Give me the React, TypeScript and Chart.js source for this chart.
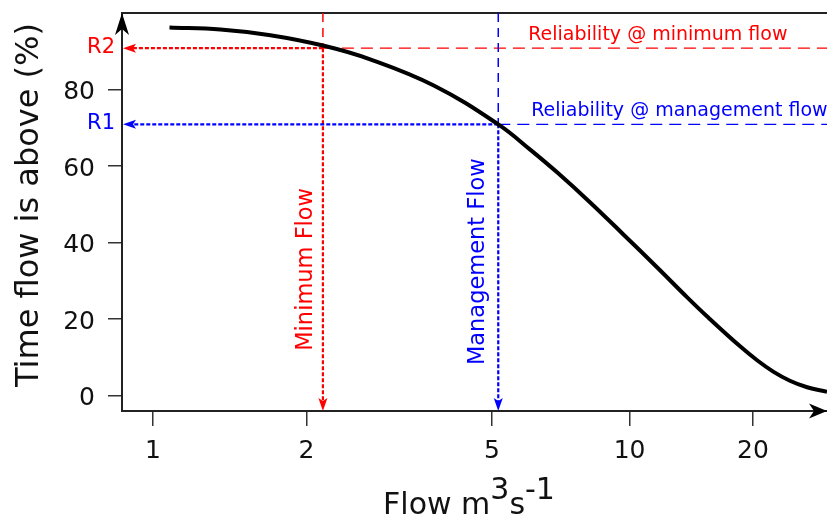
import React, { useEffect, useRef } from 'react';
import { Chart, registerables } from 'chart.js';

Chart.register(...registerables);

// Flow duration curve (flow in m3/s, % of time the flow is above)
const flowValues = [1.078, 1.357, 1.7, 2.17, 2.74, 3.76, 5.16, 6.06, 6.95, 8.2, 9.68, 11.68, 13.82, 15.46, 18.6, 20.5, 22.4, 24.6, 27.1, 30.3];
const percentAbove = [96.2, 95.7, 94.2, 91.5, 87.9, 81.0, 70.9, 64.3, 58.3, 50.5, 42.2, 33.5, 25.7, 20.7, 12.9, 9.2, 6.3, 3.9, 2.2, 1.0];

// Hand-drawn log-like x axis: tick flows and their relative positions on the axis
const xTickFlows = [1, 2, 5, 10, 20];
const xTickLabels = ['1', '2', '5', '10', '20'];
const xTickSpacing = [0, 1, 2.209, 3.105, 3.909];
const yTickValues = [0, 20, 40, 60, 80];

const xAxisRange = [0.87, 30.3];
const yAxisRange = [-4, 100];

const minimumFlow = 2.17;
const managementFlow = 5.16;
const reliabilityMinimum = 90.8;
const reliabilityManagement = 70.9;

const FONT = '"DejaVu Sans", Verdana, sans-serif';
const RED = 'rgb(255,0,0)';
const BLUE = 'rgb(0,0,255)';
const AXIS = '#222';

function warp(flow: number): number {
  const l = Math.log10(flow);
  const logs = xTickFlows.map((f) => Math.log10(f));
  let i = 0;
  if (l >= logs[logs.length - 1]) i = logs.length - 2;
  else if (l > logs[0]) {
    while (l > logs[i + 1]) i++;
  }
  const t = (l - logs[i]) / (logs[i + 1] - logs[i]);
  return xTickSpacing[i] + t * (xTickSpacing[i + 1] - xTickSpacing[i]);
}

function arrowHead(ctx: CanvasRenderingContext2D, tipX: number, tipY: number, dx: number, dy: number, len: number, half: number, notch: number, color: string) {
  const px = -dy, py = dx;
  const bx = tipX - dx * len, by = tipY - dy * len;
  const nx = tipX - dx * (len - notch), ny = tipY - dy * (len - notch);
  ctx.beginPath();
  ctx.moveTo(tipX, tipY);
  ctx.lineTo(bx + px * half, by + py * half);
  ctx.lineTo(nx, ny);
  ctx.lineTo(bx - px * half, by - py * half);
  ctx.closePath();
  ctx.fillStyle = color;
  ctx.fill();
}

function seg(ctx: CanvasRenderingContext2D, x1: number, y1: number, x2: number, y2: number, color: string, width: number, dash: number[]) {
  ctx.save();
  ctx.beginPath();
  ctx.setLineDash(dash);
  ctx.strokeStyle = color;
  ctx.lineWidth = width;
  ctx.moveTo(x1, y1);
  ctx.lineTo(x2, y2);
  ctx.stroke();
  ctx.restore();
}

const guides = [
  { flow: minimumFlow, rel: reliabilityMinimum, color: RED, tag: 'R2', name: 'Minimum Flow', nameAt: 33, note: 'Reliability @ minimum flow' },
  { flow: managementFlow, rel: reliabilityManagement, color: BLUE, tag: 'R1', name: 'Management Flow', nameAt: 35, note: 'Reliability @ management flow' },
];

const guidePlugin = {
  id: 'guides',
  beforeDatasetsDraw(chart: any) {
    const ctx: CanvasRenderingContext2D = chart.ctx;
    const a = chart.chartArea;
    const xs = chart.scales.x;
    const ys = chart.scales.y;
    ctx.save();
    // top frame line
    seg(ctx, a.left, a.top, a.right, a.top, AXIS, 2, []);
    const mgX = xs.getPixelForValue(warp(managementFlow));
    guides.forEach((g, k) => {
      const gx = xs.getPixelForValue(warp(g.flow));
      const gy = ys.getPixelForValue(g.rel);
      const aLen = 13;
      // vertical
      seg(ctx, gx, a.top, gx, gy, g.color, 1.5, [9, 6]);
      seg(ctx, gx, gy, gx, a.bottom - aLen + 3, g.color, 2.2, [4, 2]);
      arrowHead(ctx, gx, a.bottom, 0, 1, aLen, 4.5, 3, g.color);
      // horizontal
      seg(ctx, gx, gy, a.left + aLen - 2, gy, g.color, 2.2, [4, 2]);
      arrowHead(ctx, a.left + 1, gy, -1, 0, aLen, 4.5, 3, g.color);
      seg(ctx, gx, gy, a.right, gy, g.color, 1.3, [12, 7]);
      // tags
      ctx.fillStyle = g.color;
      ctx.font = `21px ${FONT}`;
      ctx.textAlign = 'right';
      ctx.textBaseline = 'middle';
      ctx.fillText(g.tag, a.left - 7, gy - 1);
      // notes above dashed lines
      ctx.font = `19px ${FONT}`;
      ctx.textAlign = 'left';
      ctx.textBaseline = 'alphabetic';
      ctx.fillText(g.note, mgX + (k === 0 ? 30 : 33), gy - 8.5);
      // rotated names
      ctx.save();
      ctx.font = `22.5px ${FONT}`;
      ctx.translate(gx - (k === 0 ? 11 : 14), ys.getPixelForValue(g.nameAt));
      ctx.rotate(-Math.PI / 2);
      ctx.textAlign = 'center';
      ctx.textBaseline = 'alphabetic';
      ctx.fillText(g.name, 0, 0);
      ctx.restore();
    });
    ctx.restore();
  },
  afterDraw(chart: any) {
    const ctx: CanvasRenderingContext2D = chart.ctx;
    const a = chart.chartArea;
    ctx.save();
    // axis arrows
    arrowHead(ctx, a.left, a.top, 0, -1, 22, 7, 6, '#000');
    arrowHead(ctx, a.right, a.bottom, 1, 0, 18, 7.5, 5, '#000');
    // y title
    ctx.fillStyle = '#111';
    ctx.save();
    ctx.font = `32px ${FONT}`;
    ctx.translate(38, 205);
    ctx.rotate(-Math.PI / 2);
    ctx.textAlign = 'center';
    ctx.textBaseline = 'alphabetic';
    ctx.fillText('Time flow is above (%)', 0, 0);
    ctx.restore();
    // x title with superscripts
    ctx.font = `30px ${FONT}`;
    ctx.textAlign = 'left';
    ctx.textBaseline = 'alphabetic';
    const parts: [string, number][] = [['Flow m', 0], ['3', -15], ['s', 0], ['-1', -15]];
    const total = parts.reduce((s, p) => s + ctx.measureText(p[0]).width, 0);
    let x = 469 - total / 2;
    const base = 514;
    parts.forEach(([t, dy]) => {
      ctx.fillText(t, x, base + dy);
      x += ctx.measureText(t).width;
    });
    ctx.restore();
  },
};

export default function App() {
  const ref = useRef<HTMLCanvasElement>(null);
  useEffect(() => {
    const canvas = ref.current!;
    const chart = new Chart(canvas, {
      type: 'line',
      data: {
        datasets: [
          {
            data: flowValues.map((f, i) => ({ x: warp(f), y: percentAbove[i] })),
            borderColor: '#000',
            borderWidth: 4,
            pointRadius: 0,
            tension: 0.4,
            fill: false,
          },
        ],
      },
      options: {
        animation: false,
        responsive: false,
        devicePixelRatio: 1,
        layout: { padding: { top: 13, left: 0, right: 0, bottom: 0 } },
        plugins: { legend: { display: false }, tooltip: { enabled: false } },
        scales: {
          x: {
            type: 'linear',
            min: warp(xAxisRange[0]),
            max: warp(xAxisRange[1]),
            afterBuildTicks: (s: any) => {
              s.ticks = xTickFlows.map((f) => ({ value: warp(f) }));
            },
            afterFit: (s: any) => {
              s.height = 106;
              s.paddingLeft = 0;
              s.paddingRight = 0;
            },
            ticks: {
              callback: (_v: any, i: number) => xTickLabels[i],
              font: { size: 25, family: FONT },
              color: '#111',
              padding: 10,
              maxRotation: 0,
              autoSkip: false,
            },
            grid: { drawOnChartArea: false, drawTicks: true, tickLength: 15, color: '#333', lineWidth: 1.5 },
            border: { display: true, color: AXIS, width: 2 },
          },
          y: {
            type: 'linear',
            min: yAxisRange[0],
            max: yAxisRange[1],
            afterBuildTicks: (s: any) => {
              s.ticks = yTickValues.map((v) => ({ value: v }));
            },
            afterFit: (s: any) => {
              s.width = 122;
              s.paddingTop = 0;
              s.paddingBottom = 0;
            },
            ticks: {
              callback: (v: any) => String(v),
              font: { size: 25, family: FONT },
              color: '#111',
              padding: 13,
              labelOffset: 3,
              autoSkip: false,
            },
            grid: { drawOnChartArea: false, drawTicks: true, tickLength: 14, color: '#333', lineWidth: 1.5 },
            border: { display: true, color: AXIS, width: 2 },
          },
        },
      } as any,
      plugins: [guidePlugin],
    } as any);
    return () => chart.destroy();
  }, []);
  return (
    <div style={{ position: 'fixed', left: 0, top: 0, width: 827, height: 517, background: '#fff' }}>
      <canvas ref={ref} width={827} height={517} style={{ display: 'block' }} />
    </div>
  );
}
